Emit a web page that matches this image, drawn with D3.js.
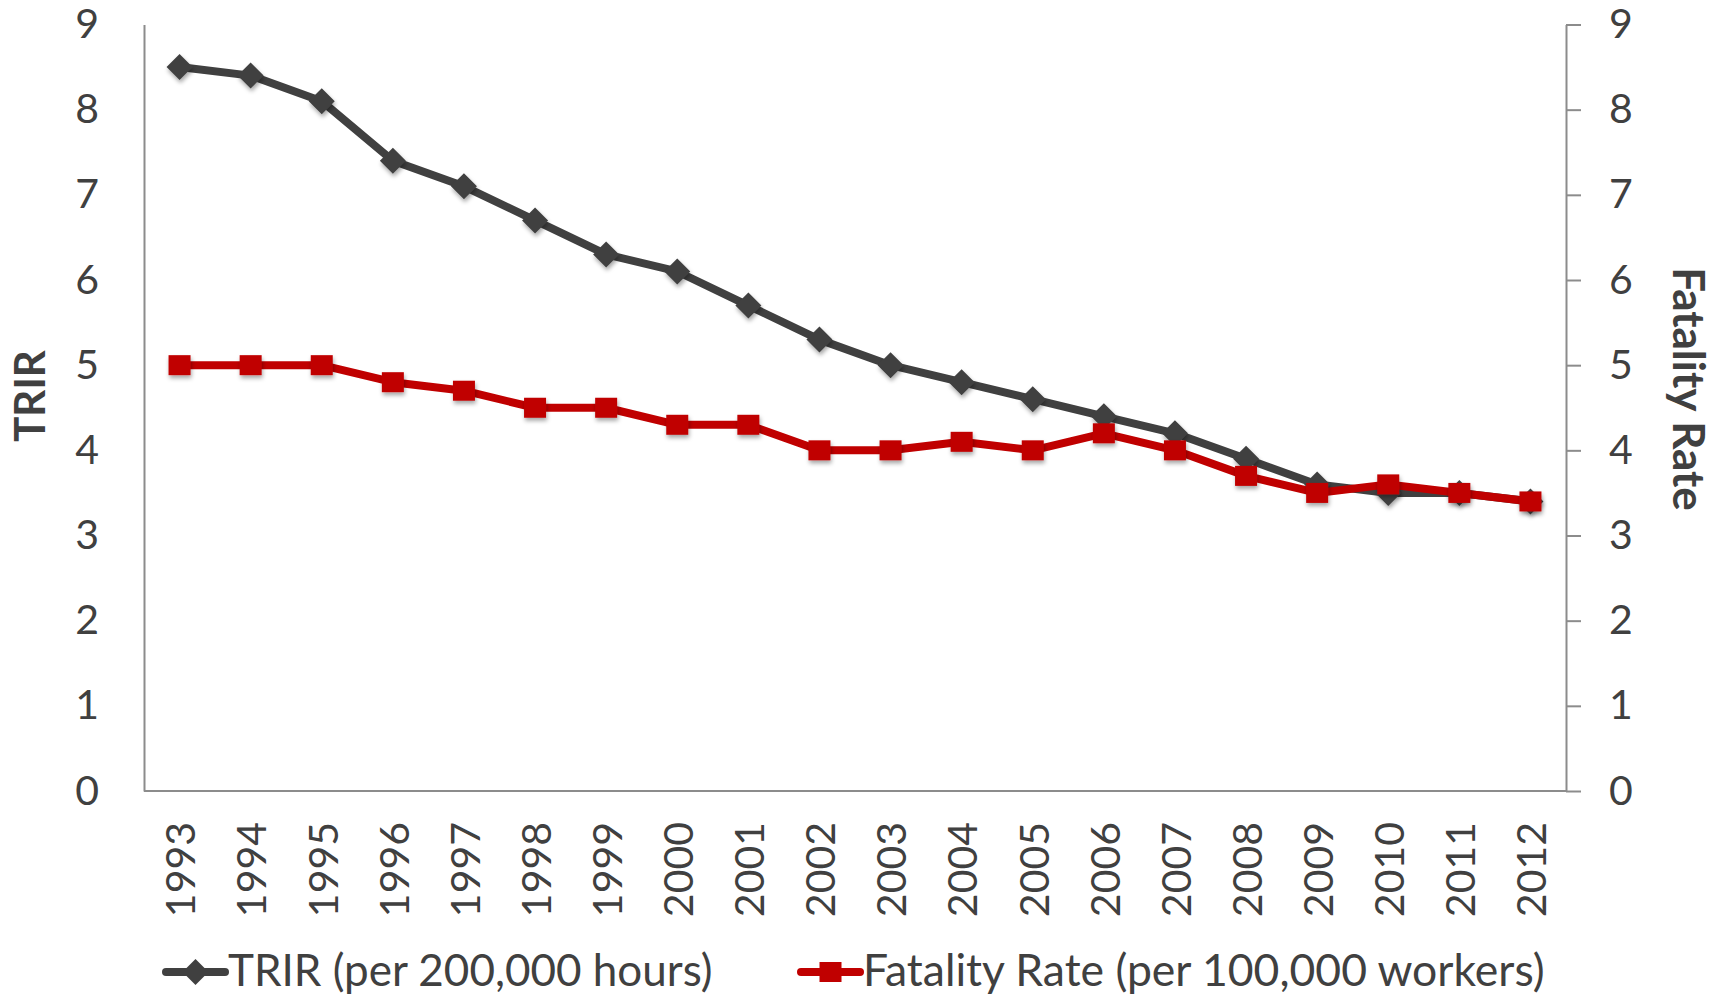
<!DOCTYPE html>
<html>
<head>
<meta charset="utf-8">
<script src="https://cdn.jsdelivr.net/npm/d3@7"></script>
<style>
  body { margin: 0; background: #fff; }
  svg text { font-family: Lato, "Open Sans", sans-serif; fill: #404040; }
</style>
</head>
<body>
<svg id="chart" width="1725" height="996"></svg>
<script>
var years = ["1993","1994","1995","1996","1997","1998","1999","2000","2001","2002",
             "2003","2004","2005","2006","2007","2008","2009","2010","2011","2012"];
var trir = [8.5, 8.4, 8.1, 7.4, 7.1, 6.7, 6.3, 6.1, 5.7, 5.3,
            5.0, 4.8, 4.6, 4.4, 4.2, 3.9, 3.6, 3.5, 3.5, 3.4];
var fatality = [5.0, 5.0, 5.0, 4.8, 4.7, 4.5, 4.5, 4.3, 4.3, 4.0,
                4.0, 4.1, 4.0, 4.2, 4.0, 3.7, 3.5, 3.6, 3.5, 3.4];
var yTicks = [0, 1, 2, 3, 4, 5, 6, 7, 8, 9];
var seriesNames = ["TRIR (per 200,000 hours)", "Fatality Rate (per 100,000 workers)"];

var plotLeft = 144, plotRight = 1566, plotTop = 24.5, plotBottom = 791;
var gray = "#404040", red = "#c00000", axisCol = "#8c8c8c";

var svg = d3.select("#chart");

var defs = svg.append("defs");
defs.append("filter").attr("id", "shadow")
    .attr("x", "-50%").attr("y", "-50%").attr("width", "200%").attr("height", "200%")
  .append("feDropShadow")
    .attr("dx", 1).attr("dy", 3).attr("stdDeviation", 2)
    .attr("flood-color", "#000").attr("flood-opacity", 0.35);

var x = d3.scaleBand().domain(years).range([plotLeft, plotRight]);
var y = d3.scaleLinear().domain([0, 9]).range([plotBottom, plotTop]);
var cx = function(d) { return x(d) + x.bandwidth() / 2; };

// left axis
var yl = svg.append("g")
    .attr("transform", "translate(" + plotLeft + ",0)")
    .call(d3.axisLeft(y).tickValues(yTicks).tickSize(0).tickPadding(45).tickFormat(d3.format("d")));
yl.select(".domain").attr("stroke", axisCol).attr("stroke-width", 2);
yl.selectAll("text").style("font-size", "41px").attr("fill", gray);

// right axis
var yr = svg.append("g")
    .attr("transform", "translate(" + plotRight + ",0)")
    .call(d3.axisRight(y).tickValues(yTicks).tickSize(15).tickSizeOuter(0).tickPadding(28).tickFormat(d3.format("d")));
yr.select(".domain").attr("stroke", axisCol).attr("stroke-width", 2);
yr.selectAll("line").attr("stroke", axisCol).attr("stroke-width", 2);
yr.selectAll("text").style("font-size", "41px").attr("fill", gray);

// x axis
svg.append("line")
    .attr("x1", plotLeft).attr("x2", plotRight)
    .attr("y1", y(0)).attr("y2", y(0))
    .attr("stroke", axisCol).attr("stroke-width", 2);

svg.append("g").selectAll("text")
  .data(years)
  .join("text")
    .attr("transform", function(d) { return "translate(" + (cx(d) + 1) + ",822) rotate(-90)"; })
    .attr("text-anchor", "end")
    .attr("dy", "0.36em")
    .style("font-size", "41px")
    .text(function(d) { return d; });

// axis titles
svg.append("text")
    .attr("transform", "translate(30,396) rotate(-90)")
    .attr("text-anchor", "middle")
    .attr("dy", "0.36em")
    .style("font-size", "42px").style("font-weight", "bold")
    .text("TRIR");

svg.append("text")
    .attr("transform", "translate(1689,389) rotate(90)")
    .attr("text-anchor", "middle")
    .attr("dy", "0.36em")
    .style("font-size", "44px").style("font-weight", "bold")
    .text("Fatality Rate");

var line = d3.line()
    .x(function(d, i) { return cx(years[i]); })
    .y(function(d) { return y(d); });

var diamond = function(s) { return "M0," + (-s) + "L" + s + ",0L0," + s + "L" + (-s) + ",0Z"; };

// TRIR series
svg.append("path")
    .attr("d", line(trir))
    .attr("fill", "none").attr("stroke", gray)
    .attr("stroke-width", 8).attr("stroke-linejoin", "round");
svg.append("g").selectAll("path")
  .data(trir)
  .join("path")
    .attr("transform", function(d, i) { return "translate(" + cx(years[i]) + "," + y(d) + ")"; })
    .attr("d", diamond(13))
    .attr("fill", gray)
    .attr("filter", "url(#shadow)");

// Fatality series
svg.append("path")
    .attr("d", line(fatality))
    .attr("fill", "none").attr("stroke", red)
    .attr("stroke-width", 8).attr("stroke-linejoin", "round");
svg.append("g").selectAll("rect")
  .data(fatality)
  .join("rect")
    .attr("x", function(d, i) { return cx(years[i]) - 11; })
    .attr("y", function(d) { return y(d) - 10; })
    .attr("width", 22).attr("height", 20)
    .attr("fill", red)
    .attr("filter", "url(#shadow)");

// legend
var leg = svg.append("g");
var l1 = leg.append("g").attr("transform", "translate(166,972)");
l1.append("line").attr("x1", 0).attr("x2", 59)
    .attr("stroke", gray).attr("stroke-width", 8).attr("stroke-linecap", "round");
l1.append("path").attr("transform", "translate(29.5,0)").attr("d", diamond(13)).attr("fill", gray);
l1.append("text").attr("x", 62).attr("y", 14)
    .style("font-size", "44px").text(seriesNames[0]);

var l2 = leg.append("g").attr("transform", "translate(801,972)");
l2.append("line").attr("x1", 0).attr("x2", 59)
    .attr("stroke", red).attr("stroke-width", 8).attr("stroke-linecap", "round");
l2.append("rect").attr("x", 29.5 - 11).attr("y", -10).attr("width", 22).attr("height", 20).attr("fill", red);
l2.append("text").attr("x", 62).attr("y", 14)
    .style("font-size", "44.5px").text(seriesNames[1]);
</script>
</body>
</html>
